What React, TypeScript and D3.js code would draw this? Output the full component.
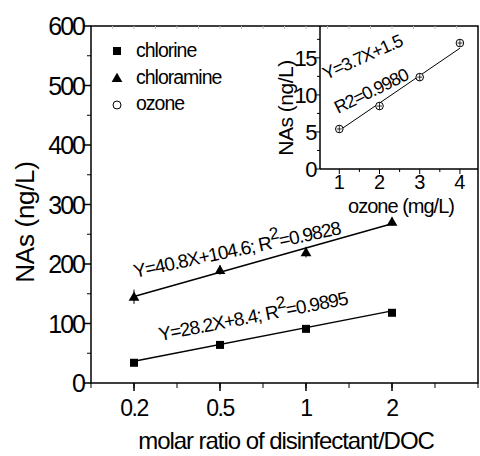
import React from 'react';
import * as d3 from 'd3';

// main panel: NAs formed vs molar ratio of disinfectant/DOC
const ratioLabels = ['0.2', '0.5', '1', '2'];
const chlorine = [34, 64, 91, 118];
const chlorineErr = [3, 3, 3, 3];
const chloramine = [145, 190, 220, 271];
const chloramineErr = [12, 8, 9, 7];
const chlorineFit = [28.2, 8.4];
const chloramineFit = [40.8, 104.6];
const mainYTicks = [0, 100, 200, 300, 400, 500, 600];

// inset: ozone
const ozoneDose = [1, 2, 3, 4];
const ozone = [5.4, 8.5, 12.4, 17.0];
const ozoneErr = [0.5, 0.5, 0.5, 0.5];
const ozoneFit = [3.7, 1.5];
const insetYTicks = [0, 5, 10, 15];

const FONT = '"Liberation Sans", Arial, sans-serif';

function App() {
    const layout = { width: 480, height: 456, left: 91, right: 478, top: 26, bottom: 383 };
    const inset = { left: 320, right: 478, top: 26, bottom: 169 };

    // categories sit on integer positions 0..3
    const x = d3.scaleLinear().domain([-0.5, 4]).range([layout.left, layout.right]);
    const y = d3.scaleLinear().domain([0, 600]).range([layout.bottom, layout.top]);
    const xi = d3.scaleLinear().domain([0.52, 4.45]).range([inset.left, inset.right]);
    const yi = d3.scaleLinear().domain([0, 19.3]).range([inset.bottom, inset.top]);

    const idx = d3.range(ratioLabels.length);
    const fitLine = (fit) => d3.line()
        .x(d => x(d))
        .y(d => y(fit[0] * (d + 1) + fit[1]))([0, 3]);
    const ozoneLine = d3.line()
        .x(d => xi(d))
        .y(d => yi(ozoneFit[0] * d + ozoneFit[1]))([1, 4]);

    const tri = d3.symbol().type(d3.symbolTriangle).size(50)();

    const minorX = d3.range(-0.5, 4.01, 0.5);
    const minorY = d3.range(50, 600, 100);
    const insetMinorX = [1.5, 2.5, 3.5];
    const insetMinorY = [2.5, 7.5, 12.5, 17.5];

    return (
        <svg width={layout.width} height={layout.height}
            style={{ position: 'absolute', left: 0, top: 0, background: '#fff' }}
            fontFamily={FONT}>
            {/* frame */}
            <rect x={layout.left} y={layout.top} width={layout.right - layout.left}
                height={layout.bottom - layout.top} fill="none" stroke="#000" strokeWidth={1.5} />
            {d3.range(layout.left + 21.5, layout.right, 21.5).map((t, i) =>
                <line key={'tt' + i} x1={t} x2={t} y1={layout.top} y2={layout.top + 3} stroke="#bbb" />)}

            {/* main y axis */}
            {mainYTicks.map(t => (
                <g key={'y' + t}>
                    <line x1={layout.left - 7} x2={layout.left} y1={y(t)} y2={y(t)} stroke="#000" strokeWidth={1.5} />
                    <text x={layout.left - 7} y={y(t) + 9} textAnchor="end" fontSize={25} letterSpacing={-2}>{t}</text>
                </g>
            ))}
            {minorY.map(t => <line key={'my' + t} x1={layout.left - 4} x2={layout.left} y1={y(t)} y2={y(t)} stroke="#000" />)}

            {/* main x axis */}
            {minorX.map(t => <line key={'mx' + t} x1={x(t)} x2={x(t)} y1={layout.bottom} y2={layout.bottom + 5} stroke="#000" />)}
            {idx.map(i => (
                <g key={'x' + i}>
                    <line x1={x(i)} x2={x(i)} y1={layout.bottom} y2={layout.bottom + 8} stroke="#000" strokeWidth={1.5} />
                    <text x={x(i)} y={416} textAnchor="middle" fontSize={23} letterSpacing={-1.5}>{ratioLabels[i]}</text>
                </g>
            ))}
            <text x={286} y={449} textAnchor="middle" fontSize={24} letterSpacing={-1.05}>molar ratio of disinfectant/DOC</text>
            <text transform="translate(34,222) rotate(-90)" textAnchor="middle" fontSize={26} letterSpacing={-0.3}>NAs (ng/L)</text>

            {/* fits */}
            <path d={fitLine(chlorineFit)} fill="none" stroke="#000" strokeWidth={1.5} />
            <path d={fitLine(chloramineFit)} fill="none" stroke="#000" strokeWidth={1.5} />

            {/* chlorine squares */}
            {idx.map(i => (
                <g key={'cl' + i}>
                    <line x1={x(i)} x2={x(i)} y1={y(chlorine[i] - chlorineErr[i])} y2={y(chlorine[i] + chlorineErr[i])} stroke="#000" />
                    <rect x={x(i) - 4} y={y(chlorine[i]) - 4} width={8} height={8} fill="#000" />
                </g>
            ))}
            {/* chloramine triangles */}
            {idx.map(i => (
                <g key={'ca' + i}>
                    <line x1={x(i)} x2={x(i)} y1={y(chloramine[i] - chloramineErr[i])} y2={y(chloramine[i] + chloramineErr[i])} stroke="#000" />
                    <path d={tri} transform={`translate(${x(i)},${y(chloramine[i]) + 1})`} fill="#000" />
                </g>
            ))}

            {/* equations */}
            <text transform="translate(135,278) rotate(-12)" fontSize={19} letterSpacing={-1}>
                Y=40.8X+104.6; R<tspan dy={-9} fontSize={17}>2</tspan><tspan dy={9}>=0.9828</tspan>
            </text>
            <text transform="translate(160,341) rotate(-11)" fontSize={19} letterSpacing={-1}>
                Y=28.2X+8.4; R<tspan dy={-9} fontSize={17}>2</tspan><tspan dy={9}>=0.9895</tspan>
            </text>

            {/* legend */}
            <rect x={113} y={47} width={8} height={8} fill="#000" />
            <text x={136} y={57} fontSize={19.5} letterSpacing={-1}>chlorine</text>
            <path d={tri} transform="translate(117,79)" fill="#000" />
            <text x={136} y={84} fontSize={19.5} letterSpacing={-1}>chloramine</text>
            <circle cx={117} cy={105} r={4} fill="none" stroke="#000" />
            <text x={136} y={110} fontSize={19.5} letterSpacing={-1}>ozone</text>

            {/* inset */}
            <line x1={inset.left} x2={inset.left} y1={inset.top} y2={inset.bottom} stroke="#000" strokeWidth={1.5} />
            <line x1={inset.left} x2={inset.right} y1={inset.bottom} y2={inset.bottom} stroke="#000" strokeWidth={1.5} />
            {insetYTicks.map(t => (
                <g key={'iy' + t}>
                    <line x1={inset.left - 5} x2={inset.left} y1={yi(t)} y2={yi(t)} stroke="#000" />
                    <text x={inset.left - 4} y={yi(t) + 8} textAnchor="end" fontSize={22} letterSpacing={-1.5}>{t}</text>
                </g>
            ))}
            {insetMinorY.map(t => <line key={'imy' + t} x1={inset.left - 3} x2={inset.left} y1={yi(t)} y2={yi(t)} stroke="#000" />)}
            {ozoneDose.map(t => (
                <g key={'ix' + t}>
                    <line x1={xi(t)} x2={xi(t)} y1={inset.bottom} y2={inset.bottom + 5} stroke="#000" />
                    <text x={xi(t)} y={189} textAnchor="middle" fontSize={20}>{t}</text>
                </g>
            ))}
            {insetMinorX.map(t => <line key={'imx' + t} x1={xi(t)} x2={xi(t)} y1={inset.bottom} y2={inset.bottom + 3} stroke="#000" />)}
            <text x={401} y={213} textAnchor="middle" fontSize={20} letterSpacing={-1}>ozone (mg/L)</text>
            <text transform="translate(293,108) rotate(-90)" textAnchor="middle" fontSize={21} letterSpacing={-0.5}>NAs (ng/L)</text>

            <path d={ozoneLine} fill="none" stroke="#000" strokeWidth={1} />
            {ozoneDose.map((d, i) => (
                <g key={'oz' + i}>
                    <circle cx={xi(d)} cy={yi(ozone[i])} r={3.8} fill="#fff" stroke="#000" />
                    <line x1={xi(d)} x2={xi(d)} y1={yi(ozone[i] - ozoneErr[i])} y2={yi(ozone[i] + ozoneErr[i])} stroke="#000" strokeWidth={0.8} />
                    <line x1={xi(d) - 2.5} x2={xi(d) + 2.5} y1={yi(ozone[i])} y2={yi(ozone[i])} stroke="#000" strokeWidth={0.8} />
                </g>
            ))}
            <text transform="translate(326,80) rotate(-24)" fontSize={18} letterSpacing={-1}>Y=3.7X+1.5</text>
            <text transform="translate(338,114) rotate(-26)" fontSize={18} letterSpacing={-1}>R2=0.9980</text>
        </svg>
    );
}

export default App;
